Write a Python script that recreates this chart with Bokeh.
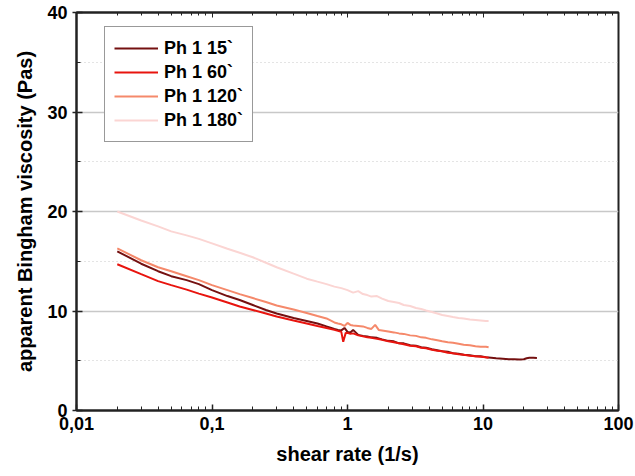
from bokeh.plotting import figure
from bokeh.models import FixedTicker, LogAxis, Legend, LegendItem
from bokeh.embed import file_html
from bokeh.resources import INLINE

# ---------------- data ----------------
x_smooth = [0.02, 0.03, 0.04, 0.05, 0.065, 0.08, 0.1, 0.13, 0.16, 0.2, 0.25, 0.3, 0.4, 0.5, 0.6, 0.7]

ph15_x = x_smooth + [0.8, 0.85, 0.9, 0.95, 1.0, 1.05, 1.1, 1.2, 1.3, 1.4, 1.5, 1.65, 1.8, 2.0, 2.2, 2.4, 2.6,
                     2.9, 3.2, 3.5, 3.8, 4.2, 4.6, 5.0, 5.5, 6.0, 6.6, 7.2, 8.0, 8.8, 9.6, 10.5, 11.5, 12.5,
                     14, 15.5, 17, 18.5, 20, 21, 22, 23.5, 25]
ph15_y = [16.0, 14.75, 14.0, 13.5, 13.1, 12.7, 12.1, 11.5, 11.1, 10.6, 10.1, 9.75, 9.3, 9.0, 8.75, 8.45,
          8.2, 8.1, 8.05, 8.3, 7.9, 7.85, 8.1, 7.6, 7.5, 7.45, 7.35, 7.3, 7.15, 7.0, 6.95, 6.75, 6.75,
          6.55, 6.5, 6.35, 6.3, 6.15, 6.05, 5.95, 5.9, 5.75, 5.7, 5.6, 5.55, 5.45, 5.45, 5.35, 5.3, 5.25,
          5.2, 5.15, 5.15, 5.12, 5.15, 5.25, 5.3, 5.3, 5.28]

ph60_x = x_smooth + [0.8, 0.85, 0.9, 0.93, 0.97, 1.0, 1.05, 1.1, 1.2, 1.3, 1.4, 1.5, 1.65, 1.8, 2.0, 2.2, 2.4,
                     2.6, 2.9, 3.2, 3.5, 3.8, 4.2, 4.6, 5.0, 5.5, 6.0, 6.6, 7.2, 8.0, 8.8, 9.6, 10.5, 11]
ph60_y = [14.7, 13.7, 13.0, 12.6, 12.15, 11.75, 11.35, 10.85, 10.45, 10.1, 9.75, 9.45, 9.05, 8.75, 8.5, 8.3,
          8.1, 8.0, 7.9, 6.9, 7.8, 7.8, 7.7, 7.75, 7.55, 7.45, 7.35, 7.3, 7.2, 7.1, 6.95, 6.85, 6.75,
          6.65, 6.5, 6.45, 6.3, 6.25, 6.1, 6.0, 5.95, 5.8, 5.75, 5.65, 5.6, 5.5, 5.45, 5.4, 5.35, 5.3]

ph120_x = x_smooth + [0.8, 0.85, 0.9, 0.95, 1.0, 1.05, 1.1, 1.2, 1.3, 1.4, 1.5, 1.6, 1.7, 1.8, 2.0, 2.2, 2.4,
                      2.6, 2.9, 3.2, 3.5, 3.8, 4.2, 4.6, 5.0, 5.5, 6.0, 6.6, 7.2, 8.0, 8.8, 9.6, 10.5, 11]
ph120_y = [16.3, 15.1, 14.4, 14.0, 13.5, 13.1, 12.6, 12.1, 11.7, 11.3, 10.9, 10.55, 10.15, 9.8, 9.5, 9.25,
           8.85, 8.75, 8.66, 8.5, 8.8, 8.6, 8.55, 8.5, 8.45, 8.3, 8.2, 8.6, 8.1, 8.05, 7.95, 7.85, 7.75,
           7.7, 7.55, 7.5, 7.35, 7.3, 7.15, 7.05, 6.95, 6.85, 6.8, 6.7, 6.6, 6.55, 6.45, 6.4, 6.4, 6.35]

ph180_x = x_smooth + [0.8, 0.9, 1.0, 1.1, 1.2, 1.3, 1.4, 1.5, 1.65, 1.8, 2.0, 2.2, 2.4, 2.6, 2.9, 3.2, 3.5,
                      3.8, 4.2, 4.6, 5.0, 5.5, 6.0, 6.6, 7.2, 8.0, 8.8, 9.6, 10.5, 11]
ph180_y = [20.0, 19.1, 18.5, 18.0, 17.6, 17.25, 16.8, 16.25, 15.85, 15.4, 14.85, 14.4, 13.75, 13.25, 12.95, 12.7,
           12.45, 12.3, 12.1, 11.85, 12.0, 11.7, 11.6, 11.45, 11.5, 11.25, 11.0, 10.9, 10.8, 10.6, 10.5,
           10.3, 10.2, 10.05, 9.9, 9.75, 9.6, 9.5, 9.4, 9.3, 9.25, 9.15, 9.1, 9.05, 9.0, 9.0]

series_names = ["Ph 1 15`", "Ph 1 60`", "Ph 1 120`", "Ph 1 180`"]
series_colors = ["#741010", "#e8140e", "#f5896b", "#fbd5d3"]

x_major = [0.01, 0.1, 1, 10, 100]
x_labels = {0.01: "0,01", 0.1: "0,1", 1: "1", 10: "10", 100: "100"}
x_minor = [m * d for d in [0.01, 0.1, 1, 10] for m in range(2, 10)]
y_major = [0, 10, 20, 30, 40]
y_minor = [5, 15, 25, 35]

FONT = "Liberation Sans"

p = figure(width=635, height=476, x_axis_type="log", x_range=(0.01, 100), y_range=(0, 40),
           output_backend="svg", toolbar_location=None,
           min_border_left=76, min_border_right=17, min_border_top=12, min_border_bottom=66)
p.background_fill_color = "white"
p.border_fill_color = "white"
p.outline_line_color = "#222222"
p.outline_line_width = 2

renderers = []
for xs, ys, c in zip([ph15_x, ph60_x, ph120_x, ph180_x], [ph15_y, ph60_y, ph120_y, ph180_y], series_colors):
    renderers.append(p.line(xs, ys, line_color=c, line_width=2))

# axes
xt = FixedTicker(ticks=x_major, minor_ticks=x_minor)
ax = p.xaxis[0]
ax.ticker = xt
ax.major_label_overrides = x_labels
ax.axis_label = "shear rate (1/s)"
ax.major_tick_in = 6
ax.major_tick_out = 0
ax.minor_tick_in = 4
ax.minor_tick_out = 0
ax.axis_line_width = 2
ax.major_label_standoff = 6

ay = p.yaxis[0]
ay.ticker = FixedTicker(ticks=y_major, minor_ticks=y_minor)
ay.axis_label = "apparent Bingham viscosity (Pas)"
ay.major_tick_in = 6
ay.major_tick_out = 4
ay.minor_tick_in = 4
ay.minor_tick_out = 0
ay.axis_line_width = 2
ay.major_label_standoff = 5

for a in [ax, ay]:
    a.axis_line_color = "#222222"
    a.major_tick_line_color = "#222222"
    a.minor_tick_line_color = "#222222"
    a.major_tick_line_width = 1.5
    a.major_label_text_font = FONT
    a.major_label_text_font_style = "bold"
    a.major_label_text_font_size = "18px"
    a.major_label_text_color = "black"
    a.axis_label_text_font = FONT
    a.axis_label_text_font_style = "bold"
    a.axis_label_text_font_size = "20px"
    a.axis_label_text_color = "black"
ax.axis_label_standoff = 10
ay.axis_label_standoff = 8

top = LogAxis(ticker=FixedTicker(ticks=x_major, minor_ticks=x_minor),
              major_label_text_font_size="1px", major_label_text_color=None, major_label_standoff=0,
              major_tick_in=5, major_tick_out=0,
              minor_tick_in=3, minor_tick_out=0, axis_line_width=2, axis_line_color="#222222",
              major_tick_line_color="#222222", minor_tick_line_color="#222222")
p.add_layout(top, "above")

# grid
p.xgrid.visible = False
p.ygrid.ticker = FixedTicker(ticks=[10, 20, 30], minor_ticks=y_minor)
p.ygrid.grid_line_color = "#c8c8c8"
p.ygrid.grid_line_width = 1.5
p.ygrid.minor_grid_line_color = "#c8c8c8"
p.ygrid.minor_grid_line_dash = "1 3"

legend = Legend(items=[LegendItem(label=n, renderers=[r]) for n, r in zip(series_names, renderers)],
                location=(28, 268), label_text_font=FONT, label_text_font_style="bold",
                label_text_font_size="18px", label_text_color="black",
                glyph_width=44, glyph_height=24, label_height=24, label_standoff=6,
                padding=9, spacing=0, margin=0,
                border_line_color="#333333", border_line_width=1.5, background_fill_alpha=1)
p.add_layout(legend, "center")

open("out.html", "w").write(file_html(p, INLINE))
